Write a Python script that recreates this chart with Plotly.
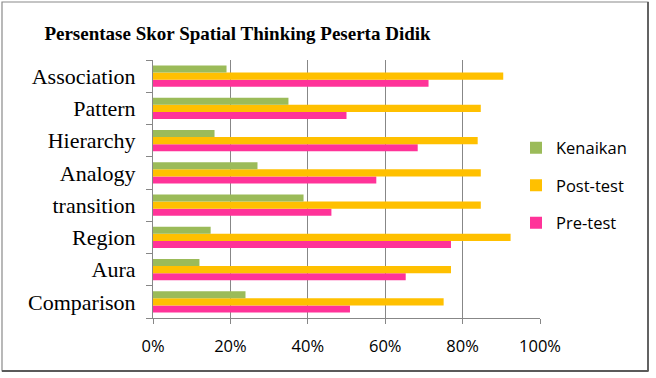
import plotly.graph_objects as go

categories = ["Comparison", "Aura", "Region", "transition", "Analogy", "Hierarchy", "Pattern", "Association"]
pre_test = [50.9, 65.3, 77.0, 46.1, 57.7, 68.4, 50.0, 71.2]
post_test = [75.1, 77.0, 92.4, 84.7, 84.7, 83.9, 84.7, 90.5]
kenaikan = [23.9, 12.0, 14.9, 38.9, 27.0, 15.9, 35.0, 19.0]
x_ticks = [0, 20, 40, 60, 80, 100]
x_tick_labels = ["0%", "20%", "40%", "60%", "80%", "100%"]

W, H = 656, 378
L, R, T, B = 153, 116, 60, 60
pw, ph = W - L - R, H - T - B

def px_x(p):
    return (p - L) / pw

def px_y(p):
    return (H - B - p) / ph

fig = go.Figure()
fig.add_trace(go.Bar(name="Pre-test", y=categories, x=pre_test, orientation="h",
                     marker=dict(color="#FF3399", line=dict(width=0)),
                     legendgroup="c", legendrank=3))
fig.add_trace(go.Bar(name="Post-test", y=categories, x=post_test, orientation="h",
                     marker=dict(color="#FFC000", line=dict(width=0)),
                     legendgroup="b", legendrank=2))
fig.add_trace(go.Bar(name="Kenaikan", y=categories, x=kenaikan, orientation="h",
                     marker=dict(color="#9BBB59", line=dict(width=0)),
                     legendgroup="a", legendrank=1))

fig.update_layout(
    width=W, height=H,
    margin=dict(l=L, r=R, t=T, b=B),
    paper_bgcolor="white", plot_bgcolor="white",
    barmode="group", bargap=0.34, bargroupgap=0,
    title=dict(text="<b>Persentase Skor Spatial Thinking Peserta Didik</b>",
               font=dict(family="Liberation Serif", size=19, color="black"),
               xref="container", x=237.5 / W, xanchor="center",
               yref="container", y=1 - 33 / H, yanchor="middle"),
    legend=dict(x=px_x(516), xanchor="left", y=px_y(185.5), yanchor="middle",
                traceorder="grouped", tracegroupgap=13,
                font=dict(family="Open Sans", size=16.5, color="black"),
                bgcolor="rgba(0,0,0,0)"),
    showlegend=True,
)

fig.update_xaxes(range=[0, 100], tickvals=x_ticks, ticktext=x_tick_labels,
                 showgrid=True, gridcolor="#878787", gridwidth=1,
                 showline=True, linecolor="#878787", linewidth=1,
                 ticks="outside", ticklen=5, tickcolor="#878787",
                 ticklabelstandoff=8,
                 tickfont=dict(family="Open Sans", size=16.5, color="black"),
                 zeroline=False, fixedrange=True)
fig.update_yaxes(categoryorder="array", categoryarray=categories,
                 showgrid=False, showline=True, linecolor="#878787", linewidth=1,
                 ticks="outside", ticklen=6, tickcolor="#878787", tickson="boundaries",
                 ticklabelstandoff=12,
                 tickfont=dict(family="Liberation Serif", size=22, color="black"),
                 fixedrange=True)

fig.add_shape(type="rect", xref="paper", yref="paper",
              x0=px_x(2), x1=px_x(648), y0=px_y(371), y1=px_y(2),
              line=dict(color="#8a8a8a", width=1.2), layer="below")
fig.add_shape(type="line", xref="paper", yref="paper",
              x0=px_x(2), x1=px_x(648.5), y0=px_y(371), y1=px_y(371),
              line=dict(color="#5a5a5a", width=1.8))
fig.add_shape(type="line", xref="paper", yref="paper",
              x0=px_x(648), x1=px_x(648), y0=px_y(371), y1=px_y(2),
              line=dict(color="#5a5a5a", width=1.8))

fig.write_html("out.html")
